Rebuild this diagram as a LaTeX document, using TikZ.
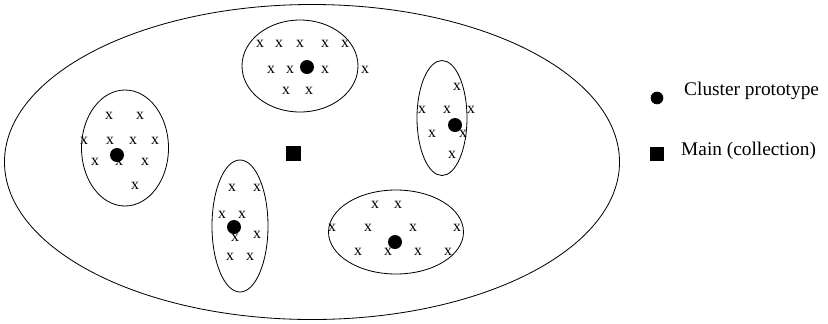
\documentclass[tikz,border=0pt]{standalone}
\usepackage{fontspec}
\setmainfont{Liberation Serif}
\usetikzlibrary{shapes.geometric}
\tikzset{
	cluster/.style={draw, ellipse, inner sep=0pt, line width=0.7pt},
	proto/.style={circle, fill=black, inner sep=0pt, minimum size=0.42cm},
	item/.style={inner sep=0pt, font=\fontsize{13.5}{14}\selectfont},
	legend/.style={inner sep=0pt, anchor=base west, font=\fontsize{16.5}{18}\selectfont},
}
\begin{document}
\begin{tikzpicture}[x=0.03cm, y=-0.03cm]
	\useasboundingbox (0,0) rectangle (828,323);
	% the whole collection
	\node[cluster, minimum width=18.45cm, minimum height=9.45cm] (all) at (312,162) {};
	% clusters
	\node[cluster, minimum width=3.48cm, minimum height=2.76cm] (ca) at (300,66) {};
	\node[cluster, minimum width=2.61cm, minimum height=3.48cm] (cb) at (125,148) {};
	\node[cluster, minimum width=1.5cm, minimum height=3.45cm] (cc) at (442,118) {};
	\node[cluster, minimum width=1.68cm, minimum height=3.96cm] (cd) at (240,226) {};
	\node[cluster, minimum width=4.05cm, minimum height=2.52cm] (ce) at (396,232) {};
	% members
	\foreach \p [count=\i] in {(260,44),(279,44),(300,44),(325,44),(345,44),(271,70),(290,70),(325,70),(365,70),(286,91),(309,91)}
		\node[item] (a\i) at \p {x};
	\foreach \p [count=\i] in {(109,116),(140,116),(84,141),(110,141),(133,141),(155,141),(95,162),(119,162),(145,162),(135,186)}
		\node[item] (b\i) at \p {x};
	\foreach \p [count=\i] in {(457,87),(422,110),(447,110),(471,110),(432,134),(463,134),(452,155)}
		\node[item] (c\i) at \p {x};
	\foreach \p [count=\i] in {(232,188),(257,188),(222,215),(242,215),(235,238),(257,235),(230,257),(250,257)}
		\node[item] (d\i) at \p {x};
	\foreach \p [count=\i] in {(375,205),(398,205),(332,228),(368,228),(413,228),(457,228),(358,252),(388,252),(418,252),(448,252)}
		\node[item] (e\i) at \p {x};
	% prototypes
	\node[proto] (pa) at (307,67) {};
	\node[proto] (pb) at (117,155) {};
	\node[proto] (pc) at (455,125) {};
	\node[proto] (pd) at (234,227) {};
	\node[proto] (pe) at (395,242) {};
	% main
	\node[fill=black, inner sep=0pt, minimum size=0.45cm] (main) at (293,153) {};
	% legend
	\node[proto, minimum size=0.38cm] (kp) at (657,98) {};
	\node[legend] (kpt) at (684,95) {Cluster prototype};
	\node[fill=black, inner sep=0pt, minimum size=0.4cm] (km) at (657,154) {};
	\node[legend] (kmt) at (681,155) {Main (collection)};
\end{tikzpicture}
\end{document}
